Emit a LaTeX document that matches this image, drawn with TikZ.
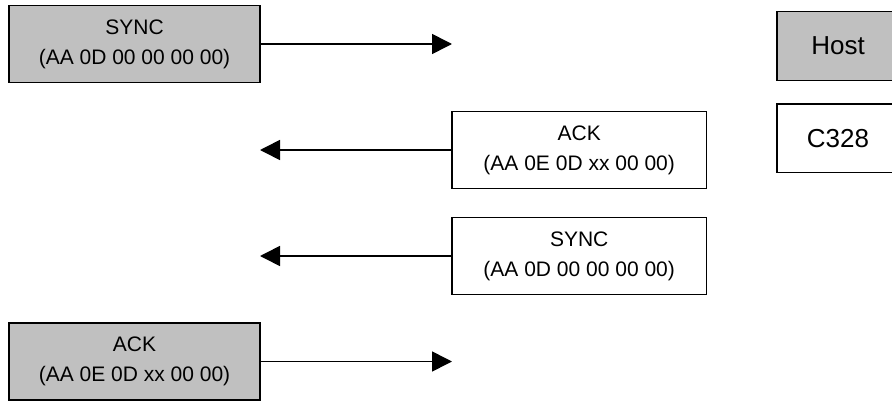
\documentclass[tikz,border=0pt]{standalone}
\usepackage{fontspec}
\setmainfont{Liberation Sans}
\usetikzlibrary{arrows.meta,positioning}
\definecolor{hostgray}{HTML}{C0C0C0}
\tikzset{
  msg/.style={draw,line width=1.1pt,minimum height=58pt,align=center,inner sep=0pt,font=\fontsize{15.75}{22.5}\selectfont},
  hostmsg/.style={msg,fill=hostgray,minimum width=188pt},
  cammsg/.style={msg,fill=white,minimum width=191pt},
  key/.style={draw,line width=1.1pt,minimum width=91.5pt,minimum height=51.5pt,inner sep=0pt,font=\fontsize{19.5}{23}\selectfont},
  sent/.style={-{Triangle[length=15pt,width=15pt]},line width=1.2pt}
}
\begin{document}
\begin{tikzpicture}[x=0.75pt,y=0.75pt]
  \useasboundingbox (0,0) rectangle (892,401);
  % messages
  \node [hostmsg] (syncH) at (134.5,357) {SYNC\\(AA 0D 00 00 00 00)};
  \node [cammsg] (ackC) at (579.2,251) {ACK\\(AA 0E 0D xx 00 00)};
  \node [cammsg] (syncC) at (579.2,145) {SYNC\\(AA 0D 00 00 00 00)};
  \node [hostmsg] (ackH) at (134.5,39.5) {ACK\\(AA 0E 0D xx 00 00)};
  \coordinate (toC1) at (452,357);
  \coordinate (toH1) at (260,251);
  \coordinate (toH2) at (260,145);
  \coordinate (toC2) at (452,39.5);
  \draw [sent] (syncH) -- (toC1);
  \draw [sent] (ackC) -- (toH1);
  \draw [sent] (syncC) -- (toH2);
  \draw [sent] (ackH) -- (toC2);
  % legend
  \node [key,fill=hostgray] (host) at (838,355) {Host};
  \node [key,below=16.5pt of host] (cam) {C328};
\end{tikzpicture}
\end{document}
